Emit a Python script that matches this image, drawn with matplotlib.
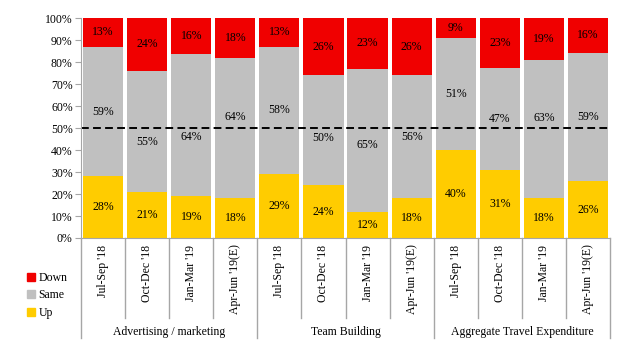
import matplotlib.pyplot as plt
import numpy as np
from matplotlib.lines import Line2D
from matplotlib.transforms import blended_transform_factory

plt.rcParams['font.family'] = ['Liberation Serif', 'DejaVu Serif']

# data
periods = ["Jul-Sep '18", "Oct-Dec '18", "Jan-Mar '19", "Apr-Jun '19(E)"]
groups = ["Advertising / marketing", "Team Building", "Aggregate Travel Expenditure"]
up = [28, 21, 19, 18, 29, 24, 12, 18, 40, 31, 18, 26]
same = [59, 55, 64, 64, 58, 50, 65, 56, 51, 47, 63, 59]
down = [13, 24, 16, 18, 13, 26, 23, 26, 9, 23, 19, 16]

# labels of the middle segment were nudged off the 50% line (in % points)
same_nudge = [0, -5, -5.5, 5, 0, -3.5, -2, 0, 0, 0, 5, 0]

c_up, c_same, c_down = '#FFCC00', '#C0C0C0', '#F00000'
line_c = '#A6A6A6'

fig = plt.figure(figsize=(6.44, 3.49), dpi=100)
ax = fig.add_axes([81/644, 111/349, 529/644, 220/349])

x = np.arange(len(up))
up_a, same_a, down_a = np.array(up, float), np.array(same, float), np.array(down, float)
# rounded shares do not always add to 100, the bars are 100% stacked
tot = (up_a + same_a + down_a) / 100
u, s, d = up_a / tot, same_a / tot, down_a / tot
w = 0.91
ax.bar(x, u, w, color=c_up)
ax.bar(x, s, w, bottom=u, color=c_same)
ax.bar(x, d, w, bottom=u + s, color=c_down)

for i in x:
    ax.text(i, u[i] / 2, f"{up[i]}%", ha='center', va='center', fontsize=8.5)
    ax.text(i, u[i] + s[i] / 2 + same_nudge[i], f"{same[i]}%",
            ha='center', va='center', fontsize=8.5)
    ax.text(i, u[i] + s[i] + d[i] / 2, f"{down[i]}%", ha='center', va='center', fontsize=8.5)

ax.axhline(50, color='black', ls=(0, (4, 2.2)), lw=1.4)

ax.set_xlim(-0.5, len(up) - 0.5)
ax.set_ylim(0, 100)
ax.set_yticks(np.arange(0, 101, 10))
ax.set_yticklabels([f"{v}%" for v in range(0, 101, 10)], fontsize=8.5)
ax.set_xticks([])
for sp in ['top', 'right']:
    ax.spines[sp].set_visible(False)
for sp in ['left', 'bottom']:
    ax.spines[sp].set_color(line_c)
ax.tick_params(axis='y', color=line_c, length=4, pad=2)

# category axis
tr = blended_transform_factory(ax.transData, ax.transAxes)
for i in x:
    ax.text(i, -0.03, periods[i % 4], rotation=90, ha='center', va='top',
            fontsize=8.5, transform=tr)
for b in np.arange(-0.5, len(up), 1):
    long_line = (b + 0.5) % 4 == 0
    ax.plot([b, b], [0, -0.455 if long_line else -0.364], color=line_c, lw=1,
            transform=tr, clip_on=False)
for g, name in enumerate(groups):
    ax.text(g * 4 + 1.5, -0.425, name, ha='center', va='center', fontsize=8.5, transform=tr)

handles = [Line2D([], [], ls='', marker='s', ms=5.5, color=c) for c in (c_down, c_same, c_up)]
fig.legend(handles, ['Down', 'Same', 'Up'], loc='upper left', bbox_to_anchor=(23/644, 1 - 267/349),
           frameon=False, fontsize=8.5, handlelength=0.6, handletextpad=0.3, labelspacing=0.48,
           borderaxespad=0)

fig.savefig('out.png', dpi=100)
